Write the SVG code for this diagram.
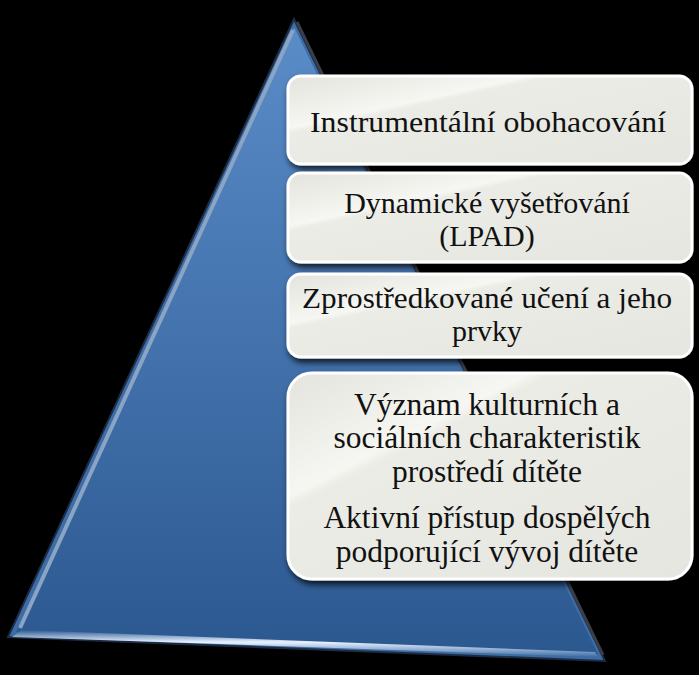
<svg xmlns="http://www.w3.org/2000/svg" width="699" height="675" viewBox="0 0 699 675">
<defs>
<linearGradient id="tri" x1="0" y1="0" x2="0" y2="1">
<stop offset="0" stop-color="#5a8cc8"/>
<stop offset="1" stop-color="#2c5890"/>
</linearGradient>
<linearGradient id="bottomHl" x1="0" y1="0" x2="0" y2="1">
<stop offset="0" stop-color="#2c5a92"/>
<stop offset="0.45" stop-color="#e8f2ff"/>
<stop offset="1" stop-color="#3a6aa4"/>
</linearGradient>
<linearGradient id="box" x1="0" y1="0" x2="1" y2="1">
<stop offset="0" stop-color="#e4e4de"/>
<stop offset="0.3" stop-color="#f6f6f2"/>
<stop offset="0.33" stop-color="#ecece6"/>
<stop offset="1" stop-color="#e6e6e0"/>
</linearGradient>
<filter id="sh" x="-10%" y="-10%" width="120%" height="130%">
<feDropShadow dx="2" dy="4" stdDeviation="3" flood-color="#000" flood-opacity="0.8"/>
</filter>
</defs>
<style>
.bx{fill:url(#box);stroke:#ffffff;stroke-width:3;filter:url(#sh)}
.t{font-size:30px;fill:#111;text-anchor:middle}
.t4{font-size:31.5px;fill:#111;text-anchor:middle}
</style>
<rect width="699" height="675" fill="#000"/>
<g id="pyramid">
<polygon points="294,19 8,637 605,661" fill="#3e6ca6"/>
<polygon points="294,19 8,637 605,661" fill="none" stroke="#1c2c44" stroke-width="2"/>
<polygon points="294,27 16,632 598,654" fill="url(#tri)"/>
<line x1="293" y1="30" x2="20" y2="628" stroke="#8aa4c4" stroke-width="4"/>
<line x1="297" y1="22" x2="603" y2="655" stroke="#3a3e48" stroke-width="3"/>
<polygon points="22,630 595,652 598,657 12,637" fill="url(#bottomHl)"/>
</g>
<g font-family="Liberation Serif, DejaVu Serif, serif">
<g id="box1">
<rect class="bx" x="288" y="76" width="404" height="88" rx="13"/>
<text class="t" x="488" y="132" textLength="356" lengthAdjust="spacingAndGlyphs">Instrumentální obohacování</text>
</g>
<g id="box2">
<rect class="bx" x="288" y="173" width="404" height="89" rx="13"/>
<text class="t" x="487" y="213">Dynamické vyšetřování</text>
<text class="t" x="487" y="246">(LPAD)</text>
</g>
<g id="box3">
<rect class="bx" x="288" y="274" width="404" height="83" rx="13"/>
<text class="t" x="487" y="308" textLength="370" lengthAdjust="spacingAndGlyphs">Zprostředkované učení a jeho</text>
<text class="t" x="487" y="341">prvky</text>
</g>
<g id="box4">
<rect class="bx" x="288" y="373" width="404" height="206" rx="24"/>
<text class="t4" x="487" y="415">Význam kulturních a</text>
<text class="t4" x="487" y="448">sociálních charakteristik</text>
<text class="t4" x="487" y="482">prostředí dítěte</text>
<text class="t4" x="487" y="528">Aktivní přístup dospělých</text>
<text class="t4" x="487" y="562">podporující vývoj dítěte</text>
</g>
</g>
</svg>
